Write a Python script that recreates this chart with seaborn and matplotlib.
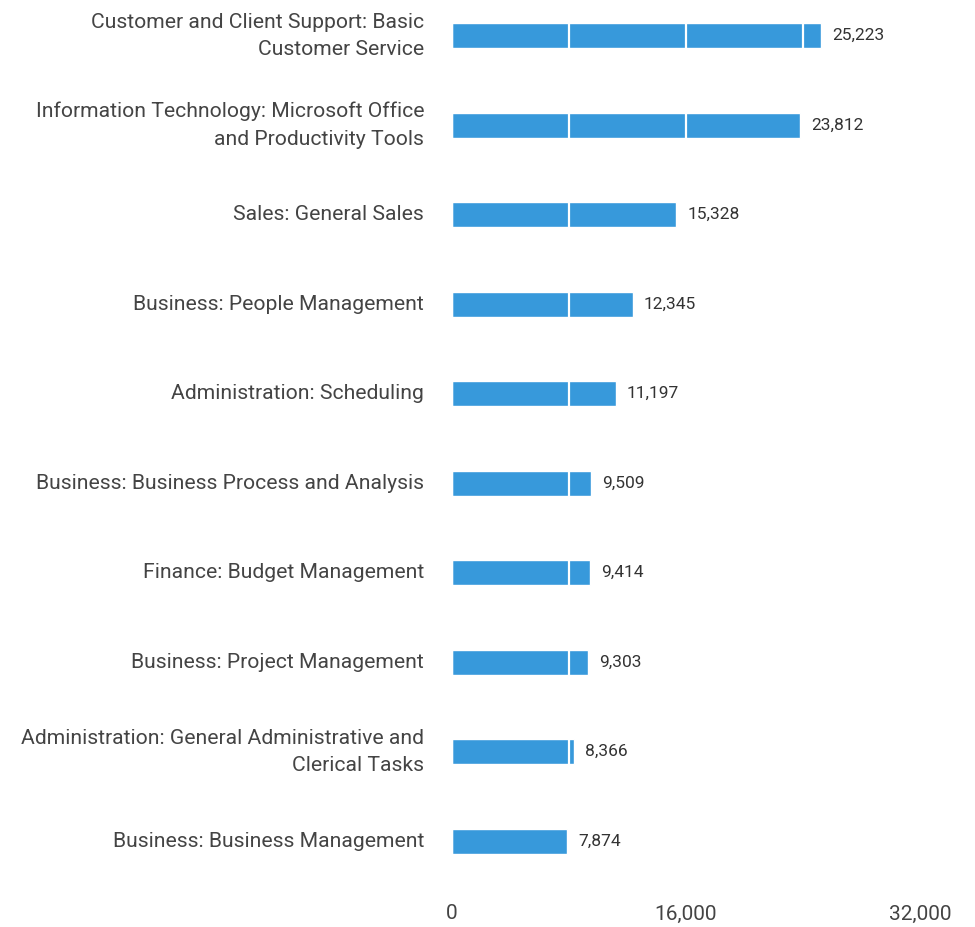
import matplotlib
matplotlib.use("Agg")
import matplotlib.pyplot as plt
import seaborn as sns
import pandas as pd
from matplotlib.ticker import FixedLocator, FuncFormatter

categories = [
    "Customer and Client Support: Basic\nCustomer Service",
    "Information Technology: Microsoft Office\nand Productivity Tools",
    "Sales: General Sales",
    "Business: People Management",
    "Administration: Scheduling",
    "Business: Business Process and Analysis",
    "Finance: Budget Management",
    "Business: Project Management",
    "Administration: General Administrative and\nClerical Tasks",
    "Business: Business Management",
]
values = [25223, 23812, 15328, 12345, 11197, 9509, 9414, 9303, 8366, 7874]
major_ticks = [0, 16000, 32000]
minor_ticks = [8000, 24000]

df = pd.DataFrame({"category": categories, "value": values})

sns.set_theme(style="white")
plt.rcParams['font.family'] = ['Roboto', 'DejaVu Sans']

fig = plt.figure(figsize=(9.75, 9.27), dpi=100)
ax = fig.add_axes([452/975, 1 - 885/927, 468/975, 885/927])

sns.barplot(data=df, x="value", y="category", color="#3799db", width=0.28,
            saturation=1, ax=ax, zorder=1)

ax.set_xlim(0, 32000)
ax.set_ylim(9.49, -0.40)
ax.xaxis.set_major_locator(FixedLocator(major_ticks))
ax.xaxis.set_minor_locator(FixedLocator(minor_ticks))
ax.xaxis.set_major_formatter(FuncFormatter(lambda v, p: f"{int(v):,}"))
ax.grid(True, axis="x", which="both", color="white", linewidth=1.6, zorder=3)
ax.set_axisbelow(False)
for sp in ax.spines.values():
    sp.set_visible(False)
ax.set_xlabel("")
ax.set_ylabel("")
ax.tick_params(axis="x", which="both", length=0, pad=14, labelsize=15, labelcolor="#444444")
ax.tick_params(axis="y", length=0, pad=20, labelsize=15.2, labelcolor="#444444")
for lbl in ax.get_yticklabels():
    lbl.set_linespacing(1.55)
    lbl.set_verticalalignment("center")

for container in ax.containers:
    ax.bar_label(container, labels=[f"{v:,}" for v in values], padding=8,
                 fontsize=12.5, color="#333333")

fig.savefig("out.png", dpi=100)
